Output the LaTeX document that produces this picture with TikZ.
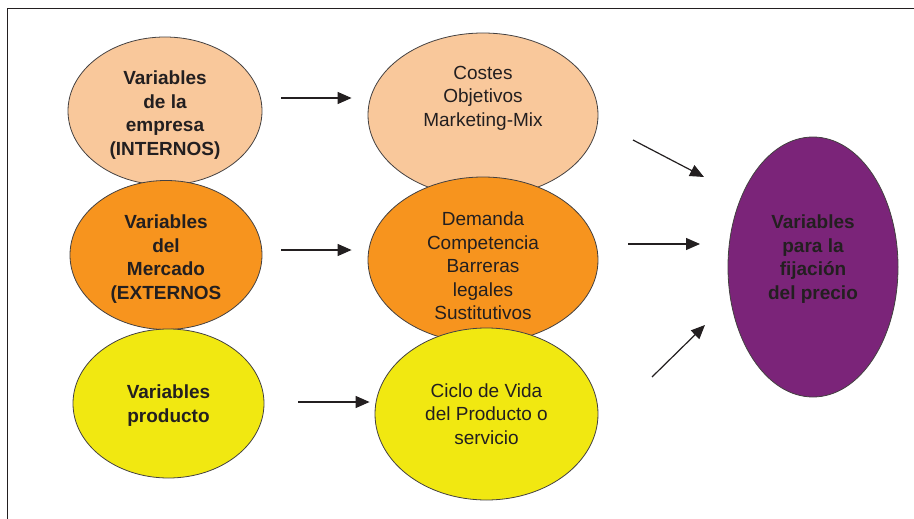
\documentclass[tikz,border=0pt]{standalone}
\usepackage{fontspec}
\setmainfont{Liberation Sans}
\usetikzlibrary{shapes.geometric,arrows.meta}
\definecolor{melocoton}{HTML}{F9C89B}
\definecolor{naranja}{HTML}{F7941E}
\definecolor{amarillo}{HTML}{F1E811}
\definecolor{morado}{HTML}{7B2479}
\definecolor{tinta}{HTML}{231F20}
\tikzset{
  elipse/.style={ellipse, draw=tinta!85, line width=0.8pt, inner sep=0pt},
  texto/.style={align=center, inner sep=0pt, text=tinta, font={\fontsize{19}{23.5}\selectfont}},
  negrita/.style={texto, font={\fontsize{19}{23.5}\selectfont\bfseries}},
  flecha/.style={->, line width=1.2pt, tinta},
}

\begin{document}
\begin{tikzpicture}[x=1pt, y=-1pt, >={Triangle[length=14pt,width=12pt]}]
    \useasboundingbox (0,0) rectangle (914,519);
    % 1. Marco
    \draw[line width=1pt, tinta] (7,519) -- (7,9) -- (914,9);

    % 2. Columna izquierda
    \node[elipse, fill=melocoton, minimum width=194pt, minimum height=148pt] (emp) at (165,111) {};
    \node[negrita] (emptxt) at ([yshift=-4pt]emp.center) {Variables\\de la\\empresa\\(INTERNOS)};
    \node[elipse, fill=naranja, minimum width=192pt, minimum height=149pt] (mer) at (166,255) {};
    \node[negrita] (mertxt) at ([yshift=-4pt]mer.center) {Variables\\del\\Mercado\\(EXTERNOS};
    \node[elipse, fill=amarillo, minimum width=191pt, minimum height=149pt] (pro) at (168.5,403.5) {};
    \node[negrita] (protxt) at ([yshift=-2pt]pro.center) {Variables\\producto};

    % 3. Columna central
    \node[elipse, fill=melocoton, minimum width=230pt, minimum height=164pt] (cos) at (483,115) {};
    \node[texto] (costxt) at ([yshift=17pt]cos.center) {Costes\\Objetivos\\Marketing-Mix};
    \node[elipse, fill=naranja, minimum width=230pt, minimum height=166pt] (dem) at (483,260) {};
    \node[texto] (demtxt) at ([yshift=-6pt]dem.center) {Demanda\\Competencia\\Barreras\\legales\\Sustitutivos};
    \node[elipse, fill=amarillo, minimum width=223pt, minimum height=172pt] (cic) at (486.5,414) {};
    \node[texto] (cictxt) at (cic.center) {Ciclo de Vida\\del Producto o\\servicio};

    % 4. Resultado
    \node[elipse, fill=morado, minimum width=170pt, minimum height=260pt] (pre) at (813,267) {};
    \node[negrita] (pretxt) at ([yshift=8pt]pre.center) {Variables\\para la\\fijación\\del precio};

    % 5. Flechas
    \draw[flecha, shorten <=19pt, shorten >=16pt] ([yshift=13pt]emp.east) -- ([yshift=17pt]cos.west);
    \draw[flecha, shorten <=19pt, shorten >=16pt] ([yshift=5pt]mer.east) -- ([yshift=10pt]dem.west);
    \draw[flecha, shorten <=34pt, shorten >=5pt] ([yshift=1.5pt]pro.east) -- ([yshift=12pt]cic.west);

    \coordinate (s1) at (633,140);
    \coordinate (t1) at (704,177);
    \coordinate (s2) at (628,244);
    \coordinate (t2) at (700,244);
    \coordinate (s3) at (652,377);
    \coordinate (t3) at (705,325);
    \draw[flecha] (s1) -- (t1);
    \draw[flecha] (s2) -- (t2);
    \draw[flecha] (s3) -- (t3);
\end{tikzpicture}
\end{document}
